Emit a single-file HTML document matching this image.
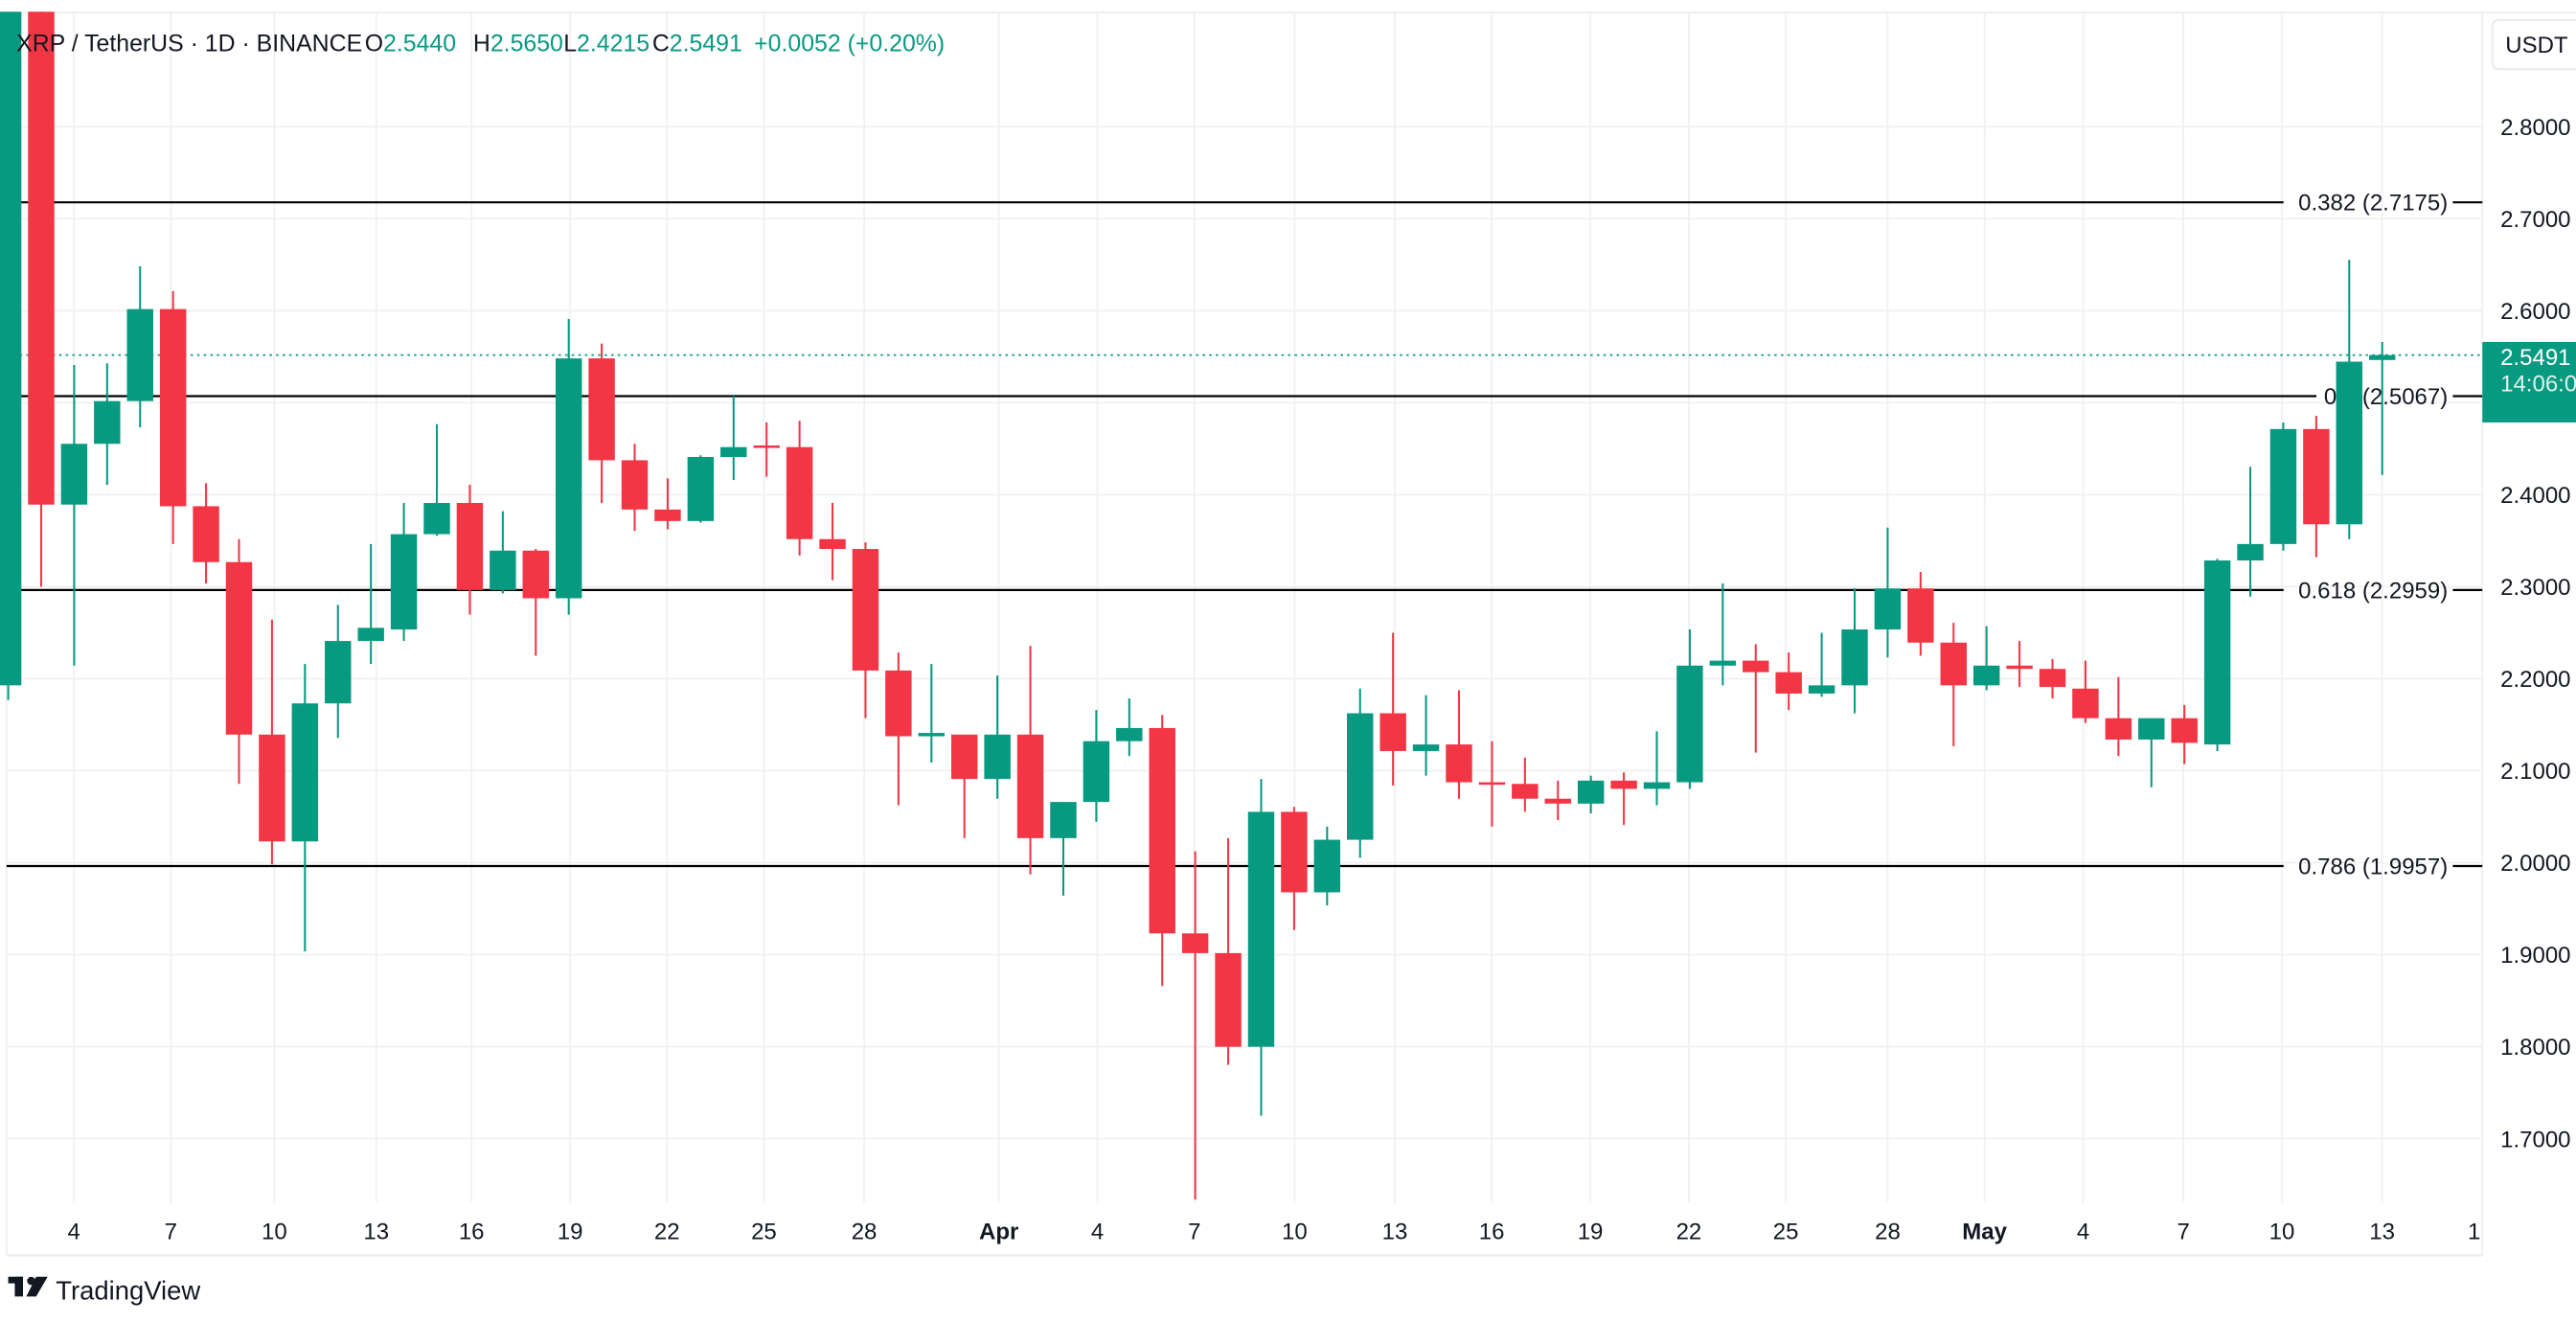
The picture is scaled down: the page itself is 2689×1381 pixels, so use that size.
<!DOCTYPE html>
<html><head><meta charset="utf-8"><style>
html,body{margin:0;padding:0;background:#fff;width:2689px;height:1381px;overflow:hidden}
svg{display:block}
text{font-family:"Liberation Sans",sans-serif}
</style></head><body>
<svg id="s" width="2689" height="1381" viewBox="0 0 1568 805" xmlns="http://www.w3.org/2000/svg">
<rect width="1568" height="805" fill="#fff"/>
<g id="grid"></g>
<line x1="4" y1="7.5" x2="1568" y2="7.5" stroke="#eee" stroke-width="1"/>
<line x1="4" y1="764" x2="1511" y2="764" stroke="#eee" stroke-width="1.5"/>
<line x1="1511" y1="7" x2="1511" y2="764" stroke="#eee" stroke-width="1"/>
<line x1="4" y1="8" x2="4" y2="764" stroke="#eee" stroke-width="1"/>
<g id="fib"></g>
<line x1="4" y1="216" x2="1511" y2="216" stroke="#089981" stroke-width="1" stroke-dasharray="1.5,2.5"/>
<g id="c"></g>
<g id="lab"></g>
<rect x="1517" y="12" width="56" height="30" rx="4" fill="#fff" stroke="#e8e8e8"/>
<text x="1525" y="32" font-size="14" fill="#131722">USDT</text>
<rect x="1511" y="208" width="57" height="49" fill="#089981"/>
<text x="1522" y="222" font-size="14" fill="#fff">2.5491</text>
<text x="1522" y="238" font-size="14" fill="#e0f2ee">14:06:0</text>
<text y="31" font-size="14.5" fill="#131722"><tspan x="10">XRP / TetherUS · 1D · BINANCE</tspan><tspan x="222">O</tspan><tspan fill="#089981">2.5440</tspan><tspan x="288">H</tspan><tspan fill="#089981">2.5650</tspan><tspan x="343">L</tspan><tspan fill="#089981">2.4215</tspan><tspan x="397">C</tspan><tspan fill="#089981">2.5491</tspan><tspan x="459" fill="#089981">+0.0052 (+0.20%)</tspan></text>
<g transform="translate(5,777)"><rect x="0" y="0" width="9" height="4" fill="#131722"/><rect x="4" y="0" width="5" height="12" fill="#131722"/><circle cx="14" cy="2.5" r="2.5" fill="#131722"/><polygon points="17,0 24,0 17,12 11,12" fill="#131722"/></g>
<text x="34" y="791" font-size="16" fill="#131722">TradingView</text>
</svg>
<script>
var NS="http://www.w3.org/2000/svg";
function el(p,t,a,txt){var e=document.createElementNS(NS,t);for(var k in a)e.setAttribute(k,a[k]);if(txt!==undefined)e.textContent=txt;document.getElementById(p).appendChild(e);return e;}
function y(p){return 77+(2.8-p)*560;}
var prices=[2.8,2.7,2.6,2.5,2.4,2.3,2.2,2.1,2.0,1.9,1.8,1.7];
prices.forEach(function(p){var yy=y(p);el("grid","line",{x1:4,x2:1511,y1:yy,y2:yy,stroke:"#f0f0f0","stroke-width":1});
el("lab","text",{x:1522,y:yy+5,"font-size":14,fill:"#131722"},p.toFixed(4));});
var dates=[[45,"4"],[104,"7"],[167,"10"],[229,"13"],[287,"16"],[347,"19"],[406,"22"],[465,"25"],[526,"28"],[608,"Apr"],[668,"4"],[727,"7"],[788,"10"],[849,"13"],[908,"16"],[968,"19"],[1028,"22"],[1087,"25"],[1149,"28"],[1208,"May"],[1268,"4"],[1329,"7"],[1389,"10"],[1450,"13"],[1506,"1"]];
dates.forEach(function(d){if(d[0]<1500)el("grid","line",{x1:d[0],x2:d[0],y1:8,y2:732,stroke:"#f0f0f0","stroke-width":1});
var a={x:d[0],y:754,"font-size":14,fill:"#131722","text-anchor":"middle"};if(d[1]=="Apr"||d[1]=="May")a["font-weight"]="bold";el("lab","text",a,d[1]);});
var fibs=[[123,"0.382 (2.7175)",1390],[241,"0.5 (2.5067)",1410],[359,"0.618 (2.2959)",1390],[527,"0.786 (1.9957)",1390]];
fibs.forEach(function(f){el("fib","line",{x1:4,x2:f[2],y1:f[0],y2:f[0],stroke:"#000","stroke-width":1.3});
el("fib","line",{x1:1493,x2:1511,y1:f[0],y2:f[0],stroke:"#000","stroke-width":1.3});
el("fib","text",{x:1490,y:f[0]+5,"font-size":14,fill:"#131722","text-anchor":"end"},f[1]);});
var C=[[7,417,7,426,"g"],[7,307,7,357,"r"],[270,307,222,405,"g"],[244,270,221,295,"g"],[188,244,162,260,"g"],[188,308,177,331,"r"],[308,342,294,355,"r"],[342,447,328,477,"r"],[447,512,377,526,"r"],[428,512,404,579,"g"],[390,428,368,449,"g"],[382,390,331,404,"g"],[325,383,306,390,"g"],[306,325,258,326,"g"],[306,359,295,374,"r"],[335,359,311,361,"g"],[335,364,334,399,"r"],[218,364,194,374,"g"],[218,280,209,306,"r"],[280,310,270,323,"r"],[310,317,291,322,"r"],[278,317,277,318,"g"],[272,278,241,292,"g"],[271,272,257,290,"r"],[272,328,256,338,"r"],[328,334,306,353,"r"],[334,408,330,437,"r"],[408,448,397,490,"r"],[446,448,404,464,"g"],[447,474,447,510,"r"],[447,474,411,486,"g"],[447,510,393,532,"r"],[488,510,488,545,"g"],[451,488,432,500,"g"],[443,451,425,460,"g"],[443,568,435,600,"r"],[568,580,518,730,"r"],[580,637,510,648,"r"],[494,637,474,679,"g"],[494,543,491,566,"r"],[511,543,503,551,"g"],[434,511,419,522,"g"],[434,457,385,478,"r"],[453,457,423,472,"g"],[453,476,420,486,"r"],[476,477,451,503,"r"],[477,486,461,494,"r"],[486,489,475,499,"r"],[475,489,472,495,"g"],[475,480,470,502,"r"],[476,480,445,490,"g"],[405,476,383,480,"g"],[402,405,355,417,"g"],[402,409,392,458,"r"],[409,422,397,432,"r"],[417,422,385,424,"g"],[383,417,358,434,"g"],[358,383,321,400,"g"],[358,391,348,399,"r"],[391,417,379,454,"r"],[405,417,381,420,"g"],[405,407,390,418,"r"],[407,418,401,425,"r"],[419,437,402,440,"r"],[437,450,412,460,"r"],[437,450,437,479,"g"],[437,452,429,465,"r"],[341,453,340,457,"g"],[331,341,284,363,"g"],[261,331,257,335,"g"],[261,319,253,339,"r"],[220,319,158,328,"g"],[216,219,208,289,"g"]];
C.forEach(function(c,i){var x=5+i*20.07;var col=c[4]=="g"?"#089981":"#f23645";
el("c","line",{x1:x,x2:x,y1:c[2],y2:c[3],stroke:col,"stroke-width":1.2});
var h=Math.max(c[1]-c[0],1.5);el("c","rect",{x:x-8,y:c[0],width:16,height:h,fill:col});});
</script>
</body></html>
